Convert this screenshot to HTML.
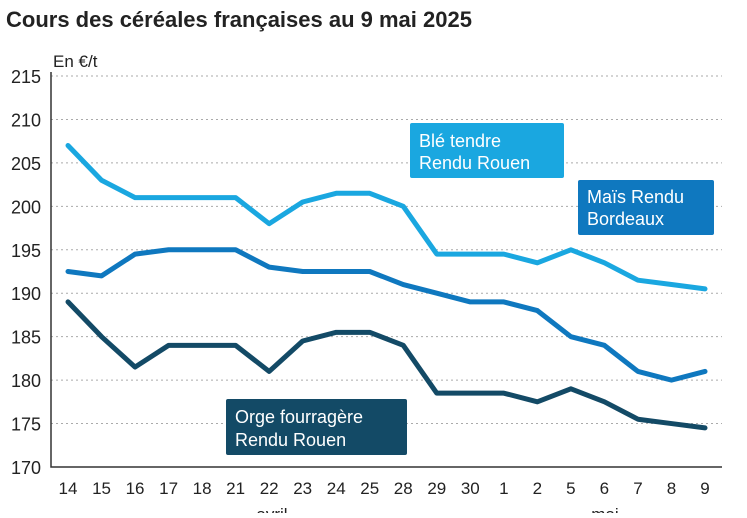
<!DOCTYPE html>
<html><head><meta charset="utf-8"><style>
body{margin:0;background:#fff;font-family:"Liberation Sans",sans-serif}
</style></head><body>
<svg id="c" width="747" height="513" xmlns="http://www.w3.org/2000/svg" font-family="Liberation Sans, sans-serif">
<text x="6" y="27" font-size="22" font-weight="bold" fill="#222">Cours des céréales françaises au 9 mai 2025</text>
<text x="53" y="67" font-size="17" fill="#222">En €/t</text>
<g id="grid"></g><g id="lines"></g>
<g><rect x="410" y="123" width="154" height="55" rx="2" fill="#1aa7e0"/><text x="419" y="147" font-size="18" fill="#fff">Blé tendre</text><text x="419" y="169" font-size="18" fill="#fff">Rendu Rouen</text></g>
<g><rect x="578" y="180" width="136" height="55" rx="2" fill="#0f78bf"/><text x="587" y="203" font-size="18" fill="#fff">Maïs Rendu</text><text x="587" y="225" font-size="18" fill="#fff">Bordeaux</text></g>
<g><rect x="226" y="399" width="181" height="56" rx="2" fill="#134a66"/><text x="235" y="423" font-size="18" fill="#fff">Orge fourragère</text><text x="235" y="446" font-size="18" fill="#fff">Rendu Rouen</text></g>
<text x="272" y="520" font-size="17" fill="#222" text-anchor="middle">avril</text>
<text x="605" y="520" font-size="17" fill="#222" text-anchor="middle">mai</text>
</svg>
<script>
const categories=["14","15","16","17","18","21","22","23","24","25","28","29","30","1","2","5","6","7","8","9"];
const ble=[207,203,201,201,201,201,198,200.5,201.5,201.5,200,194.5,194.5,194.5,193.5,195,193.5,191.5,191,190.5];
const mais=[192.5,192,194.5,195,195,195,193,192.5,192.5,192.5,191,190,189,189,188,185,184,181,180,181];
const orge=[189,185,181.5,184,184,184,181,184.5,185.5,185.5,184,178.5,178.5,178.5,177.5,179,177.5,175.5,175,174.5];
const yTicks=[170,175,180,185,190,195,200,205,210,215];
const NS="http://www.w3.org/2000/svg";
function y(v){return 467-(v-170)*(391/45);}
function x(i){return 68+i*(637/19);}
const grid=document.getElementById('grid');
function mk(t,a,p){const e=document.createElementNS(NS,t);for(const k in a)e.setAttribute(k,a[k]);p.appendChild(e);return e;}
yTicks.forEach(v=>{
 if(v>170){const l=mk('line',{x1:51,x2:722,y1:y(v),y2:y(v),stroke:'#aaa','stroke-dasharray':'2,3'},grid);
 
 }
 const t=mk('text',{x:41,y:y(v)+7,'font-size':18,fill:'#222','text-anchor':'end'},grid);t.textContent=v;
 
 
});
const ax=mk('path',{d:'M51 72V467H722',fill:'none',stroke:'#333','stroke-width':1.5},grid);


categories.forEach((c,i)=>{const t=mk('text',{x:x(i),y:494,'font-size':17,fill:'#222','text-anchor':'middle'},grid);t.textContent=c;
 
 });
const L=document.getElementById('lines');
[[ble,'#1aa7e0','line-ble-tendre'],[mais,'#0f78bf','line-mais'],[orge,'#134a66','line-orge']].forEach(([d,col,n])=>{
 const p=mk('polyline',{points:d.map((v,i)=>x(i)+','+y(v)).join(' '),fill:'none',stroke:col,'stroke-width':5,'stroke-linejoin':'round','stroke-linecap':'round'},L);
 
 
});
</script>
</body></html>
